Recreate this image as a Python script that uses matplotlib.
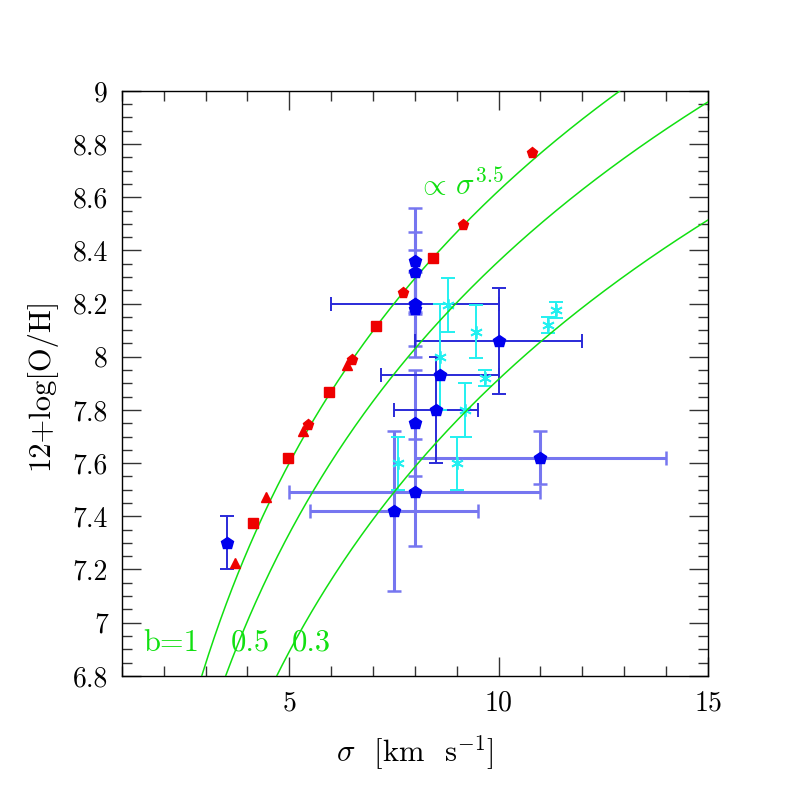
import numpy as np
import matplotlib
matplotlib.use("Agg")
import matplotlib.pyplot as plt

plt.rcParams["font.family"] = ["cmr10", "DejaVu Serif"]
plt.rcParams["mathtext.fontset"] = "cm"
plt.rcParams["axes.unicode_minus"] = False
plt.rcParams["axes.formatter.use_mathtext"] = True

# red points (three model sequences)
red_sq_x = [4.14, 4.97, 5.95, 7.08, 8.44]
red_sq_y = [7.374, 7.62, 7.868, 8.116, 8.373]
red_pent_x = [5.44, 6.49, 7.72, 9.15, 10.79]
red_pent_y = [7.744, 7.988, 8.239, 8.496, 8.766]
red_tri_x = [3.70, 4.44, 5.33, 6.38]
red_tri_y = [7.226, 7.474, 7.719, 7.97]

# blue points, light shade
bl_x = [8.0, 8.0, 8.0, 8.0, 8.0, 11.0, 8.0, 7.5]
bl_y = [8.36, 8.32, 8.18, 7.75, 8.20, 7.62, 7.49, 7.42]
bl_yerr = [0.20, 0.15, 0.14, 0.20, 0.20, 0.10, 0.20, 0.30]
bl_xerr = [0.0, 0.0, 0.0, 0.0, 0.0, 3.0, 3.0, 2.0]

# blue points, dark shade
bd_x = [3.5, 10.0, 8.6, 8.5, 8.0]
bd_y = [7.30, 8.06, 7.93, 7.80, 8.20]
bd_yerr = [0.10, 0.20, 0.0, 0.20, 0.0]
bd_xerr = [0.0, 2.0, 1.4, 1.0, 2.0]

# cyan points
cy_x = [8.80, 9.47, 11.38, 11.18, 8.60, 9.67, 9.19, 7.60, 9.00]
cy_y = [8.195, 8.095, 8.176, 8.12, 8.00, 7.92, 7.80, 7.60, 7.60]
cy_yerr = [0.10, 0.10, 0.03, 0.03, 0.20, 0.03, 0.10, 0.10, 0.10]

# model curves 12+log(O/H) = c + p log(sigma)
curve_b = ["b=1", "0.5", "0.3"]
curve_c = [5.224, 4.959, 4.515]
curve_p = 3.4
label_x = [1.5, 3.6, 5.05]

fig = plt.figure(figsize=(7.97, 7.97), dpi=100)
ax = fig.add_axes([0.153, 0.152, 0.735, 0.734])

light = "#7676f0"
dark = "#2a2ad8"
blue_pt = "#0000ee"
green = "#11e011"
cyan = "#22f0f0"

ax.errorbar(bl_x, bl_y, yerr=bl_yerr, xerr=bl_xerr, fmt="none", ecolor=light,
            elinewidth=2.2, capsize=5, capthick=1.8, zorder=2)
ax.errorbar(bd_x, bd_y, yerr=bd_yerr, xerr=bd_xerr, fmt="none", ecolor=dark,
            elinewidth=1.4, capsize=5, capthick=1.4, zorder=2)
ax.errorbar(cy_x, cy_y, yerr=cy_yerr, fmt="none", ecolor=cyan,
            elinewidth=1.4, capsize=5, capthick=1.4, zorder=2)
ax.plot(cy_x, cy_y, ls="none", marker=(6, 2, 0), ms=9, mec=cyan, mew=1.3, zorder=3)

s = np.linspace(1.0, 15.0, 400)
for c in curve_c:
    ax.plot(s, c + curve_p * np.log10(s), color=green, lw=1.1, zorder=3)

ax.plot(bl_x, bl_y, ls="none", marker="p", ms=9, color=blue_pt, zorder=4)
ax.plot(bd_x, bd_y, ls="none", marker="p", ms=9, color=blue_pt, zorder=4)

ax.plot(red_sq_x, red_sq_y, ls="none", marker="s", ms=6.5, color="#ee0000", zorder=5)
ax.plot(red_pent_x, red_pent_y, ls="none", marker="p", ms=8, color="#ee0000", zorder=5)
ax.plot(red_tri_x, red_tri_y, ls="none", marker="^", ms=7, color="#ee0000", zorder=5)

ax.text(8.05, 8.61, r"$\propto\,\sigma^{3.5}$", color=green, fontsize=22)
for lx, lb in zip(label_x, curve_b):
    ax.text(lx, 6.895, lb, color=green, fontsize=22)

ax.set_xlim(1, 15)
ax.set_ylim(6.8, 9.0)
ax.set_xticks([5, 10, 15])
ax.set_xticks(np.arange(1, 16, 1), minor=True)
ax.set_yticks(np.arange(6.8, 9.01, 0.2))
ax.set_yticks(np.arange(6.8, 9.01, 0.05), minor=True)
ax.set_yticklabels(["6.8", "7", "7.2", "7.4", "7.6", "7.8", "8", "8.2", "8.4",
                    "8.6", "8.8", "9"])
ax.tick_params(which="both", direction="in", top=True, right=True, width=1.0,
               color="#333333", labelsize=20)
ax.tick_params(which="major", length=14, pad=10)
ax.tick_params(which="minor", length=7)
for sp in ax.spines.values():
    sp.set_linewidth(1.0)

ax.set_xlabel(r"$\sigma$  [km  s$^{-1}$]", fontsize=22, labelpad=12)
ax.set_ylabel("12+log[O/H]", fontsize=22, labelpad=12)

fig.savefig("out.png", dpi=100)
